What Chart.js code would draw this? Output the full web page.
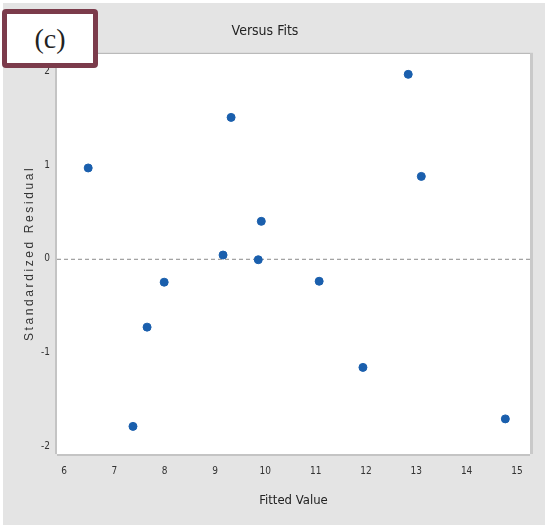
<!DOCTYPE html>
<html>
<head>
<meta charset="utf-8">
<script src="https://cdn.jsdelivr.net/npm/chart.js@4.4.0/dist/chart.umd.min.js"></script>
<style>
html, body { margin: 0; padding: 0; background: #ffffff; }
#wrap { position: relative; width: 548px; height: 528px; }
#tag {
  position: absolute; left: 2px; top: 9px; width: 86px; height: 49px;
  border: 5px solid #7b3b4b; border-radius: 4px; background: #ffffff;
  font-family: "Liberation Serif", serif; font-size: 28px; color: #222;
  text-align: center; line-height: 49px;
}
</style>
</head>
<body>
<div id="wrap">
  <canvas id="chart" width="548" height="528"></canvas>
  <div id="tag">(c)</div>
</div>
<script>
//valeurs
var fitted = [6.48, 7.37, 7.65, 7.99, 9.16, 9.32, 9.86, 9.92, 11.07, 11.94, 12.84, 13.10, 14.77];
var residual = [0.97, -1.79, -0.73, -0.25, 0.04, 1.51, -0.01, 0.40, -0.24, -1.16, 1.97, 0.88, -1.71];
var xTicks = [6, 7, 8, 9, 10, 11, 12, 13, 14, 15];
var yTicks = [-2, -1, 0, 1, 2];

var points = [];
for (var i = 0; i < fitted.length; i++) {
  points.push({x: fitted[i], y: residual[i]});
}

var narrow = '"Liberation Sans Narrow", "DejaVu Sans Condensed", sans-serif';

//fond gris, zone blanche, ligne pointillee et titre axe y
var decor = {
  id: 'decor',
  beforeDraw: function(chart) {
    var ctx = chart.ctx;
    var a = chart.chartArea;
    ctx.save();
    ctx.fillStyle = '#e4e4e4';
    ctx.fillRect(3, 3, 542, 522);
    ctx.fillStyle = '#ffffff';
    ctx.fillRect(a.left, a.top, a.right - a.left, a.bottom - a.top);
    ctx.restore();
  },
  beforeDatasetsDraw: function(chart) {
    var ctx = chart.ctx;
    var a = chart.chartArea;
    var y0 = chart.scales.y.getPixelForValue(0);
    ctx.save();
    ctx.strokeStyle = '#8a8a8a';
    ctx.lineWidth = 1;
    ctx.setLineDash([4, 3]);
    ctx.beginPath();
    ctx.moveTo(a.left, y0 + 0.5);
    ctx.lineTo(a.right, y0 + 0.5);
    ctx.stroke();
    ctx.setLineDash([]);
    //bordures
    ctx.strokeStyle = '#a9a9a9';
    ctx.beginPath();
    ctx.moveTo(a.left, a.top + 0.5);
    ctx.lineTo(a.right, a.top + 0.5);
    ctx.stroke();
    ctx.strokeStyle = '#c9c9c9';
    ctx.lineWidth = 3;
    ctx.beginPath();
    ctx.moveTo(a.right + 1.5, a.top);
    ctx.lineTo(a.right + 1.5, a.bottom);
    ctx.stroke();
    ctx.lineWidth = 2;
    ctx.strokeStyle = '#c4c4c4';
    ctx.beginPath();
    ctx.moveTo(a.left - 1, a.top);
    ctx.lineTo(a.left - 1, a.bottom);
    ctx.moveTo(a.left, a.bottom + 1);
    ctx.lineTo(a.right, a.bottom + 1);
    ctx.stroke();
    ctx.restore();
  },
  afterDraw: function(chart) {
    var ctx = chart.ctx;
    var a = chart.chartArea;
    ctx.save();
    ctx.translate(30, (a.top + a.bottom) / 2);
    ctx.rotate(-Math.PI / 2);
    ctx.letterSpacing = '2.6px';
    ctx.font = '12px "Liberation Sans", Arial, sans-serif';
    ctx.fillStyle = '#333333';
    ctx.textAlign = 'center';
    ctx.textBaseline = 'middle';
    ctx.fillText('Standardized Residual', 0, 0);
    ctx.restore();
  }
};

var ctxS = document.getElementById('chart').getContext('2d');
var myChart = new Chart(ctxS, {
  type: 'scatter',
  data: {
    datasets: [{
      data: points,
      backgroundColor: '#1a5fad',
      borderColor: '#1a5fad',
      pointRadius: 4,
      pointHoverRadius: 4
    }]
  },
  options: {
    responsive: false,
    animation: false,
    layout: { padding: { left: 0, right: 18, top: 0, bottom: 4 } },
    plugins: {
      legend: { display: false },
      tooltip: { enabled: false },
      title: {
        display: true,
        text: 'Versus Fits',
        color: '#222222',
        font: { family: narrow, size: 14, weight: 'normal' },
        padding: { top: 23, bottom: 13 }
      }
    },
    scales: {
      x: {
        type: 'linear',
        min: 5.86,
        max: 15.26,
        afterBuildTicks: function(scale) {
          scale.ticks = xTicks.map(function(v) { return {value: v}; });
        },
        afterFit: function(scale) { scale.height = 70; },
        grid: { display: false, drawOnChartArea: false, drawTicks: true, tickLength: 5, tickColor: '#b5b5b5' },
        border: { display: false },
        ticks: { color: '#333333', font: { family: narrow, size: 10 }, padding: 6, maxRotation: 0 },
        title: {
          display: true,
          text: 'Fitted Value',
          color: '#222222',
          font: { family: narrow, size: 13 },
          padding: { top: 4, bottom: 16 }
        }
      },
      y: {
        type: 'linear',
        min: -2.085,
        max: 2.2,
        afterBuildTicks: function(scale) {
          scale.ticks = yTicks.map(function(v) { return {value: v}; });
        },
        afterFit: function(scale) { scale.width = 57; },
        grid: { display: false, drawOnChartArea: false, drawTicks: true, tickLength: 5, tickColor: '#b5b5b5' },
        border: { display: false },
        ticks: { color: '#333333', font: { family: narrow, size: 10 }, padding: 2 }
      }
    }
  },
  plugins: [decor]
});
</script>
</body>
</html>
